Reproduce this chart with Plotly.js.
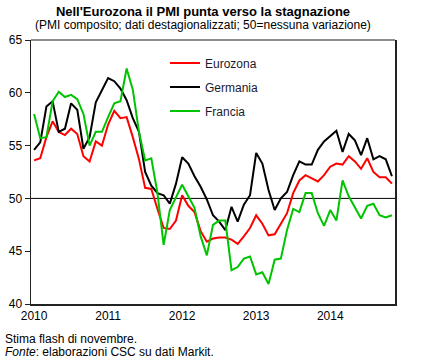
<!DOCTYPE html>
<html><head><meta charset="utf-8">
<script src="https://cdn.plot.ly/plotly-3.0.1.min.js"></script>
<style>html,body{margin:0;padding:0;background:#fff}#chart{width:428px;height:360px}</style>
</head><body><div id="chart"></div>
<script>
// Months Jan 2010 .. Nov 2014 (index 0..58)
const yearLabels = ['2010', '2011', '2012', '2013', '2014'];
const eurozona = [
  53.6, 53.8, 55.8, 57.3, 56.3, 56.0, 56.6, 56.1, 54.0, 53.5, 55.4, 55.0,
  57.0, 58.3, 57.6, 57.7, 55.8, 53.7, 51.0, 50.9, 49.0, 47.2, 47.1, 47.9,
  50.3, 49.3, 48.7, 46.9, 45.9, 46.2, 46.3, 46.3, 46.1, 45.7, 46.4, 47.2,
  48.4, 47.6, 46.5, 46.6, 47.6, 48.6, 50.5, 51.7, 52.2, 51.9, 51.6, 52.2,
  53.0, 53.3, 53.2, 54.0, 53.5, 52.8, 53.8, 52.5, 52.0, 52.0, 51.4
];
const germania = [
  54.6, 55.3, 58.7, 59.2, 56.3, 56.6, 59.0, 58.4, 54.7, 55.8, 59.1, 60.3,
  61.4, 61.1, 60.4, 59.3, 57.6, 56.3, 52.5, 51.2, 50.5, 50.3, 49.5, 51.4,
  53.9, 53.3, 52.1, 51.1, 49.9, 48.4, 47.8, 47.0, 49.2, 47.8, 49.4, 50.3,
  54.3, 53.3, 50.8, 48.9, 50.0, 50.6, 52.2, 53.5, 53.2, 53.2, 54.6, 55.4,
  55.9, 56.4, 54.4, 56.1, 55.5, 54.1, 55.7, 53.7, 54.0, 53.7, 52.1
];
const francia = [
  58.0, 55.7, 55.8, 59.2, 60.1, 59.6, 59.8, 59.4, 58.0, 55.0, 56.3, 56.3,
  57.7, 59.0, 59.2, 62.3, 60.3, 56.3, 53.6, 53.8, 50.5, 45.6, 48.9, 50.1,
  51.3, 50.2, 49.1, 46.4, 44.6, 47.5, 47.9, 47.9, 43.2, 43.5, 44.3, 44.5,
  42.8, 43.0, 41.9, 44.2, 44.3, 47.0, 49.0, 48.7, 50.5, 50.5, 48.6, 47.4,
  48.9, 47.9, 51.7, 50.2, 49.2, 48.1, 49.3, 49.5, 48.4, 48.2, 48.4
];
const seriesNames = ['Eurozona', 'Germania', 'Francia'];
const seriesColors = ['#ff0000', '#000000', '#00c400'];
const yTicks = [40, 45, 50, 55, 60, 65];

const months = eurozona.map((_, i) => i);
const tickPos = yearLabels.map((_, i) => i * 12);
const dataSets = [eurozona, germania, francia];
const legendIds = ['legend', 'legend2', 'legend3'];

const traces = dataSets.map((vals, k) => ({
  x: months, y: vals, type: 'scatter', mode: 'lines', name: seriesNames[k],
  line: {color: seriesColors[k], width: 2}, legend: legendIds[k]
}));

const font = {family: 'Liberation Sans, Arial, sans-serif', size: 12, color: '#000'};
const legBase = {bgcolor: 'rgba(0,0,0,0)', font: {family: font.family, size: 12, color: '#1a1a2e'},
  xanchor: 'left', yanchor: 'middle', itemwidth: 30};
const lx = (px) => (px - 31) / 364;
const ly = (py) => (304 - py) / 264;

const layout = {
  width: 428, height: 360,
  margin: {l: 31, r: 33, t: 40, b: 56},
  paper_bgcolor: '#fff', plot_bgcolor: '#fff',
  font: font,
  title: {text: '<b>Nell\'Eurozona il PMI punta verso la stagnazione</b>',
    font: {family: font.family, size: 13, color: '#000'},
    x: 203 / 428, xanchor: 'center', y: 1 - 11 / 360, yanchor: 'middle'},
  showlegend: true,
  legend: Object.assign({}, legBase, {x: lx(165), y: ly(63)}),
  legend2: Object.assign({}, legBase, {x: lx(165), y: ly(87)}),
  legend3: Object.assign({}, legBase, {x: lx(165), y: ly(111)}),
  xaxis: {
    range: [-0.5, 58.5], tickmode: 'array', tickvals: tickPos, ticktext: yearLabels,
    ticks: '', showgrid: false, zeroline: false,
    showline: true, linecolor: '#222', linewidth: 1.5, mirror: false,
    tickfont: {family: font.family, size: 12, color: '#000'}
  },
  yaxis: {
    range: [40, 65], tickmode: 'array', tickvals: yTicks,
    ticks: 'outside', ticklen: 5, tickcolor: '#222', tickwidth: 1,
    showgrid: false, zeroline: false,
    showline: true, linecolor: '#222', linewidth: 1.5, mirror: true,
    tickfont: {family: font.family, size: 12, color: '#000'}
  },
  shapes: [
    {type: 'line', xref: 'paper', x0: 0, x1: 1, yref: 'y', y0: 50, y1: 50,
      line: {color: '#000', width: 1}, layer: 'below'},
    {type: 'line', xref: 'paper', x0: 0, x1: 1, yref: 'paper', y0: 1, y1: 1,
      line: {color: '#666', width: 1.5}}
  ],
  annotations: [
    {text: '(PMI composito; dati destagionalizzati; 50=nessuna variazione)', xref: 'paper', yref: 'paper',
      x: lx(203), y: ly(25), xanchor: 'center', yanchor: 'middle', showarrow: false,
      font: {family: font.family, size: 12, color: '#000'}},
    {text: 'Stima flash di novembre.', xref: 'paper', yref: 'paper',
      x: lx(3), y: ly(339), xanchor: 'left', yanchor: 'middle', showarrow: false,
      font: {family: font.family, size: 12, color: '#000'}},
    {text: '<i>Fonte</i>: elaborazioni CSC su dati Markit.', xref: 'paper', yref: 'paper',
      x: lx(3), y: ly(352), xanchor: 'left', yanchor: 'middle', showarrow: false,
      font: {family: font.family, size: 12, color: '#000'}}
  ]
};

Plotly.newPlot('chart', traces, layout, {displayModeBar: false, staticPlot: true});
</script>
</body></html>
